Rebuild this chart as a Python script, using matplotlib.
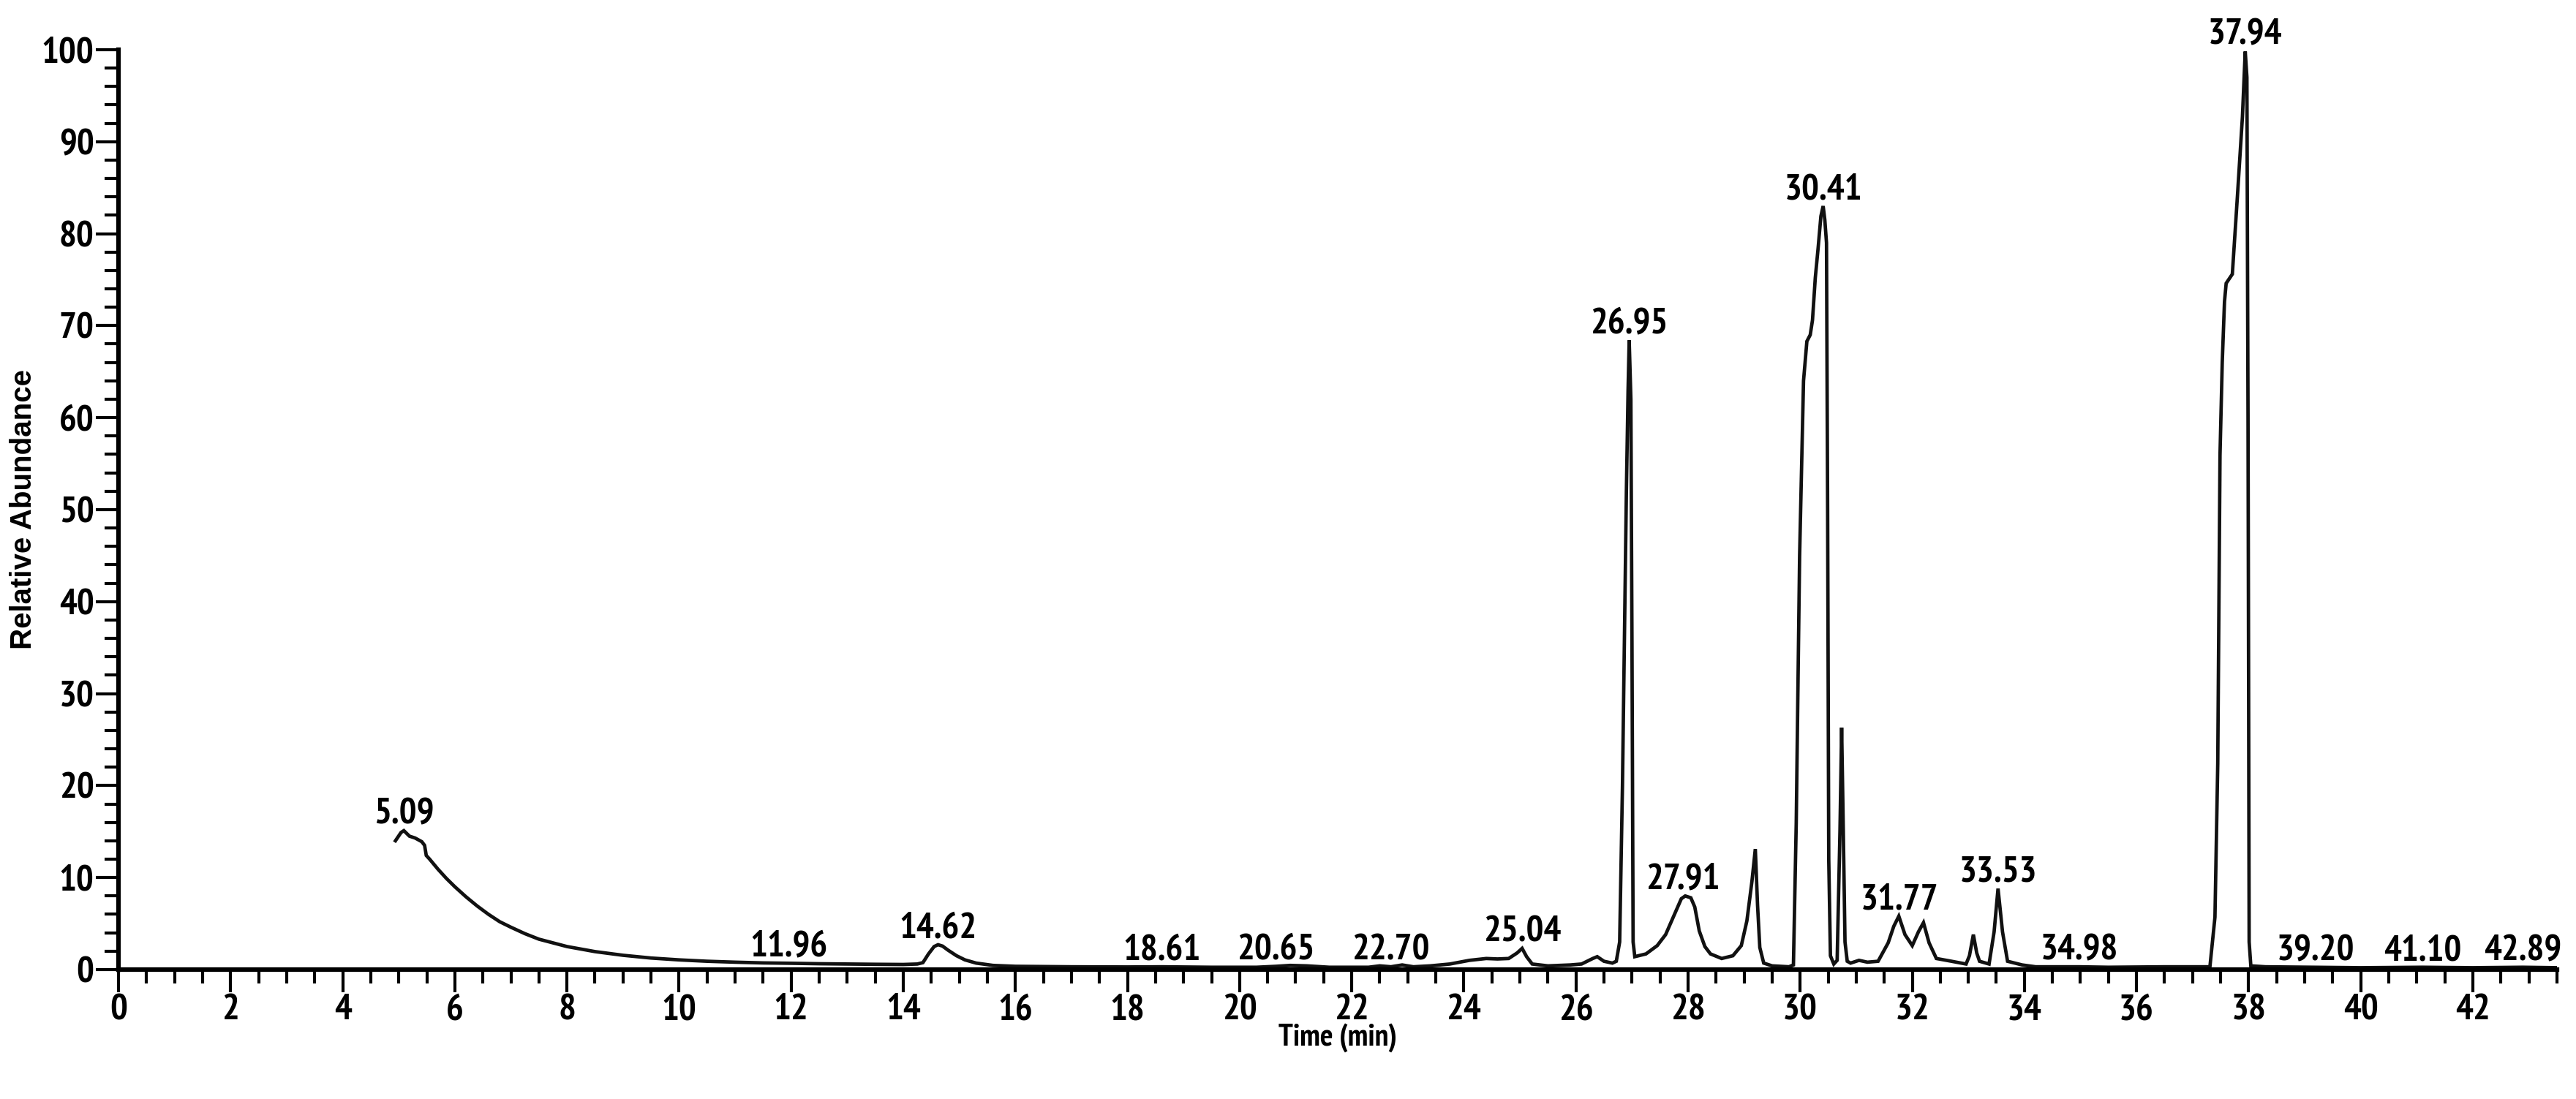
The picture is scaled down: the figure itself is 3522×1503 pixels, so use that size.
import matplotlib
matplotlib.use("Agg")
import matplotlib.pyplot as plt
from matplotlib import font_manager
from matplotlib.ticker import MultipleLocator

#%% data (time in min, relative abundance in %)
time_min = [4.94, 5.04, 5.09, 5.19, 5.29, 5.41, 5.46, 5.49, 5.55, 5.7, 5.85, 6.0, 6.2, 6.4,
            6.6, 6.8, 7.0, 7.25, 7.5, 7.75, 8.0, 8.5, 9.0, 9.5, 10.0, 10.5, 11.0, 11.5,
            12.0, 12.5, 13.0, 13.5, 14.0, 14.25, 14.35, 14.45, 14.55, 14.62, 14.7, 14.8,
            14.95, 15.1, 15.3, 15.6, 16.0, 17.0, 18.0, 18.61, 19.5, 20.3, 20.65, 20.9,
            21.2, 21.6, 22.3, 22.5, 22.7, 22.9, 23.1, 23.4, 23.75, 24.1, 24.4, 24.6,
            24.8, 24.95, 25.04, 25.12, 25.22, 25.5, 25.9, 26.1, 26.3, 26.38, 26.5, 26.65,
            26.72, 26.78, 26.83, 26.87, 26.9, 26.93, 26.95, 26.98, 27.0, 27.02, 27.05,
            27.25, 27.45, 27.6, 27.78, 27.88, 27.95, 28.05, 28.12, 28.2, 28.3, 28.4,
            28.6, 28.8, 28.95, 29.05, 29.14, 29.2, 29.24, 29.28, 29.35, 29.5, 29.8,
            29.88, 29.93, 29.99, 30.06, 30.12, 30.18, 30.22, 30.27, 30.32, 30.37, 30.41,
            30.44, 30.47, 30.49, 30.51, 30.54, 30.6, 30.66, 30.71, 30.74, 30.77, 30.8,
            30.84, 30.9, 31.05, 31.2, 31.39, 31.57, 31.67, 31.76, 31.87, 32.0, 32.11,
            32.2, 32.3, 32.43, 32.7, 32.96, 33.02, 33.09, 33.15, 33.2, 33.37, 33.46,
            33.53, 33.61, 33.7, 33.96, 34.2, 34.98, 35.5, 36.5, 37.1, 37.31, 37.4,
            37.45, 37.49, 37.53, 37.57, 37.6, 37.71, 37.8, 37.89, 37.94, 37.97, 37.99,
            38.01, 38.04, 38.3, 39.2, 40.0, 41.1, 42.0, 42.89, 43.5]
abundance = [14.0, 14.9, 15.1, 14.5, 14.3, 13.9, 13.5, 12.4, 12.0, 10.9, 9.9, 9.0, 7.9, 6.9,
             6.0, 5.2, 4.6, 3.9, 3.3, 2.9, 2.5, 1.95, 1.55, 1.25, 1.05, 0.9, 0.8, 0.72,
             0.68, 0.63, 0.6, 0.57, 0.55, 0.6, 0.75, 1.7, 2.5, 2.7, 2.55, 2.1,
             1.5, 1.05, 0.7, 0.45, 0.35, 0.3, 0.28, 0.3, 0.25, 0.25, 0.35, 0.45,
             0.4, 0.25, 0.25, 0.4, 0.3, 0.5, 0.3, 0.4, 0.6, 1.0, 1.2, 1.15,
             1.2, 1.8, 2.3, 1.4, 0.6, 0.4, 0.5, 0.6, 1.2, 1.4, 0.9, 0.7,
             0.9, 3.0, 20.0, 38.0, 52.0, 63.0, 68.4, 62.0, 35.0, 3.0, 1.4,
             1.7, 2.6, 3.8, 6.3, 7.7, 8.0, 7.8, 6.8, 4.2, 2.5, 1.7,
             1.2, 1.5, 2.6, 5.3, 9.6, 13.1, 7.0, 2.4, 0.7, 0.4, 0.3,
             0.5, 15.9, 44.9, 64.0, 68.3, 69.0, 70.6, 75.2, 78.4, 81.9, 83.0,
             81.5, 79.0, 50.0, 12.0, 1.5, 0.6, 1.0, 15.0, 26.3, 15.0, 3.0,
             0.9, 0.7, 1.0, 0.8, 0.9, 2.9, 4.7, 5.8, 3.8, 2.6, 4.1,
             5.1, 2.9, 1.2, 0.9, 0.6, 1.5, 3.8, 1.8, 0.9, 0.6, 4.1,
             8.8, 4.1, 0.9, 0.5, 0.3, 0.3, 0.25, 0.3, 0.3, 0.3, 5.7,
             22.4, 55.9, 66.0, 72.6, 74.6, 75.6, 84.0, 92.7, 99.8, 97.0, 60.0,
             3.0, 0.4, 0.3, 0.25, 0.2, 0.25, 0.2, 0.25, 0.2]

peak_rt = [5.09, 11.96, 14.62, 18.61, 20.65, 22.70, 25.04, 26.95, 27.91, 30.41,
           31.77, 33.53, 34.98, 37.94, 39.20, 41.10, 42.89]
peak_height = [15.1, 0.68, 2.7, 0.3, 0.35, 0.3, 2.3, 68.4, 8.0, 83.0,
               5.8, 8.8, 0.3, 99.8, 0.25, 0.25, 0.25]

#%% pick a narrow sans like the instrument software uses
installed = {f.name for f in font_manager.fontManager.ttflist}
family = "Liberation Sans"
for cand in ["Liberation Sans Narrow", "Arial Narrow", "PT Sans Narrow",
             "Roboto Condensed", "Archivo Narrow", "Barlow Semi Condensed"]:
    if cand in installed:
        family = cand
        break
plt.rcParams["font.family"] = [family, "DejaVu Sans"]
plt.rcParams["font.weight"] = "bold"

fig = plt.figure(figsize=(35.23, 15.03), dpi=100)
ax = fig.add_axes([0.046, 0.1178, 0.9463, 0.837])

ax.plot(time_min, abundance, color="#111111", linewidth=3.4, solid_joinstyle="miter")

for rt, h in zip(peak_rt, peak_height):
    ax.annotate("{:.2f}".format(rt), xy=(rt, h), xytext=(0, 7), textcoords="offset points",
                ha="center", va="baseline", fontsize=36, fontweight="bold")

ax.set_xlim(0, 43.5)
ax.set_ylim(0, 100)
ax.xaxis.set_major_locator(MultipleLocator(2))
ax.xaxis.set_minor_locator(MultipleLocator(0.5))
ax.yaxis.set_major_locator(MultipleLocator(10))
ax.yaxis.set_minor_locator(MultipleLocator(2))

for side in ["top", "right"]:
    ax.spines[side].set_visible(False)
for side in ["left", "bottom"]:
    ax.spines[side].set_linewidth(4.5)

ax.tick_params(which="major", length=22, width=3, labelsize=36, pad=2)
ax.tick_params(which="minor", length=14, width=3)
for lab in ax.get_xticklabels() + ax.get_yticklabels():
    lab.set_fontweight("bold")

ax.set_xlabel("Time (min)", fontsize=30, fontweight="bold", labelpad=-4)
ax.set_ylabel("Relative Abundance", fontsize=29, fontweight="bold", labelpad=4,
              family=["Liberation Sans", "DejaVu Sans"])

fig.savefig("out.png", dpi=100)
